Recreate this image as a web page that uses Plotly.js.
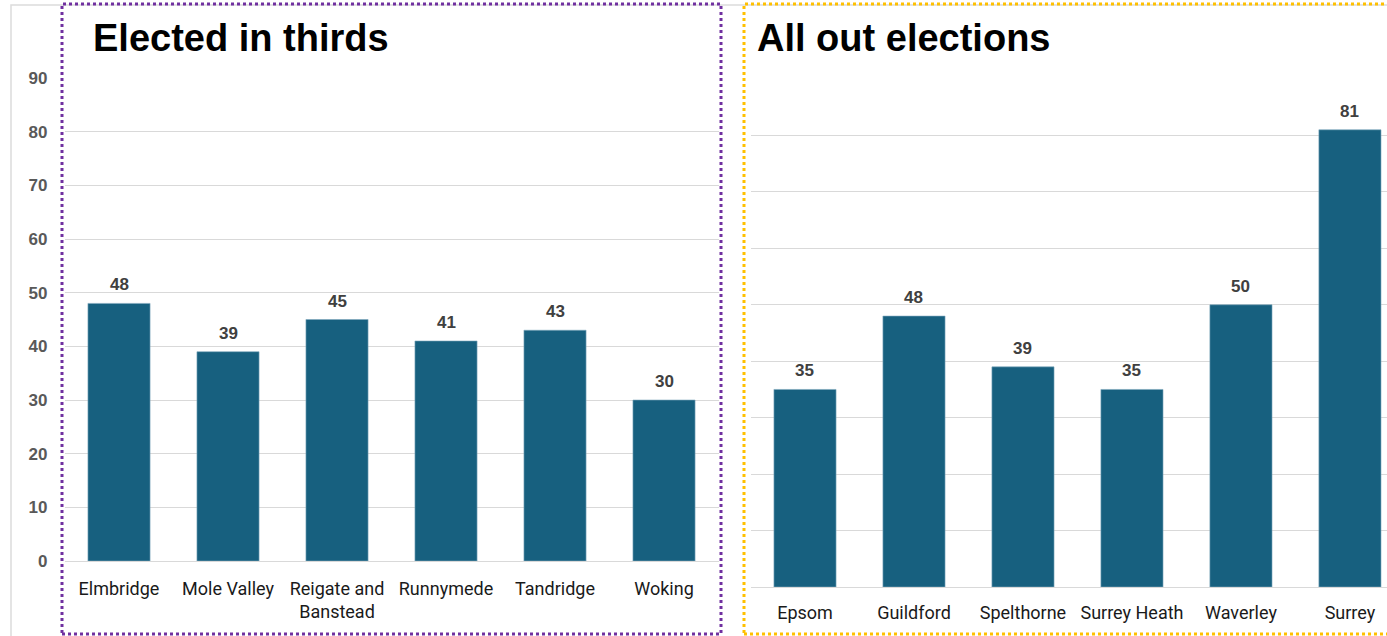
<!DOCTYPE html>
<html>
<head>
<meta charset="utf-8">
<script src="https://cdn.plot.ly/plotly-3.0.1.min.js"></script>
<style>html,body{margin:0;padding:0;background:#fff;}#chart{width:1387px;height:636px;}</style>
</head>
<body>
<div id="chart"></div>
<script>
const thirdsCategories = ["Elmbridge", "Mole Valley", "Reigate and<br>Banstead", "Runnymede", "Tandridge", "Woking"];
const thirdsValues = [48, 39, 45, 41, 43, 30];
const allOutCategories = ["Epsom", "Guildford", "Spelthorne", "Surrey Heath", "Waverley", "Surrey"];
const allOutValues = [35, 48, 39, 35, 50, 81];
const yTicks = [0, 10, 20, 30, 40, 50, 60, 70, 80, 90];
const panelTitles = ["Elected in thirds", "All out elections"];

const W = 1387, H = 636;
const px = v => v / W;
const py = v => 1 - v / H;

const barColor = "#17607f";
const gridColor = "#d9d9d9";

const traces = [
  {type: "bar", x: thirdsCategories, y: thirdsValues, xaxis: "x", yaxis: "y",
   marker: {color: barColor, line: {color: "#7fa8bd", width: 0.6}}, hoverinfo: "x+y"},
  {type: "bar", x: allOutCategories, y: allOutValues, xaxis: "x2", yaxis: "y2",
   marker: {color: barColor, line: {color: "#7fa8bd", width: 0.6}}, hoverinfo: "x+y"}
];

const labelFont = {family: "Liberation Sans, Arial, sans-serif", size: 17, color: "#404040", weight: "bold"};
const annotations = [];
thirdsValues.forEach((v, i) => annotations.push({
  xref: "x", yref: "y", x: thirdsCategories[i], y: v, text: "<b>" + v + "</b>",
  showarrow: false, yanchor: "bottom", yshift: 7, font: labelFont
}));
allOutValues.forEach((v, i) => annotations.push({
  xref: "x2", yref: "y2", x: allOutCategories[i], y: v, text: "<b>" + v + "</b>",
  showarrow: false, yanchor: "bottom", yshift: 7, font: labelFont
}));
const titleFont = {family: "Liberation Sans, Arial, sans-serif", size: 38, color: "#000", weight: "bold"};
annotations.push({xref: "paper", yref: "paper", x: px(91), y: py(38), xanchor: "left", yanchor: "middle",
  text: "<b>" + panelTitles[0] + "</b>", showarrow: false, font: titleFont});
annotations.push({xref: "paper", yref: "paper", x: px(755), y: py(38), xanchor: "left", yanchor: "middle",
  text: "<b>" + panelTitles[1] + "</b>", showarrow: false, font: titleFont});

const shapes = [
  {type: "rect", xref: "paper", yref: "paper", x0: px(11), x1: px(1400), y0: py(660), y1: py(5),
   line: {color: "#dcdcdc", width: 1.5}, layer: "below"},
  {type: "rect", xref: "paper", yref: "paper", x0: px(62), x1: px(721), y0: py(634), y1: py(4),
   line: {color: "#7030a0", width: 3, dash: "dot"}},
  {type: "rect", xref: "paper", yref: "paper", x0: px(744), x1: px(1400), y0: py(634), y1: py(4),
   line: {color: "#ffc000", width: 3, dash: "dot"}}
];

const tickFont = {family: "Roboto, Inter, sans-serif", size: 18, color: "#1a1a1a"};

const layout = {
  width: W, height: H,
  margin: {l: 0, r: 0, t: 0, b: 0},
  paper_bgcolor: "#fff", plot_bgcolor: "#fff",
  showlegend: false,
  bargap: 0.43,
  xaxis: {domain: [px(64.5), px(718.5)], type: "category", range: [-0.5, 5.5],
    tickfont: tickFont, showgrid: false, ticks: "", showline: true, linecolor: gridColor, linewidth: 1,
    ticklabelstandoff: 11, fixedrange: true},
  yaxis: {domain: [py(561), py(78)], range: [0, 90], tickvals: yTicks,
    tickfont: {family: "Liberation Sans, Arial, sans-serif", size: 17, color: "#595959", weight: "bold"},
    showgrid: true, gridcolor: gridColor, gridwidth: 1, zeroline: false, ticks: "",
    ticklabelstandoff: 16, fixedrange: true},
  xaxis2: {domain: [px(750.5), 1], type: "category", range: [-0.5, 5.34], anchor: "y2",
    tickfont: tickFont, showgrid: false, ticks: "", showline: true, linecolor: gridColor, linewidth: 1,
    ticklabelstandoff: 9, fixedrange: true},
  yaxis2: {domain: [py(587), py(79)], range: [0, 90], tickvals: yTicks, anchor: "x2",
    showticklabels: false, showgrid: true, gridcolor: gridColor, gridwidth: 1, zeroline: false,
    ticks: "", fixedrange: true},
  annotations: annotations,
  shapes: shapes
};

Plotly.newPlot("chart", traces, layout, {displayModeBar: false, staticPlot: true});
</script>
</body>
</html>
